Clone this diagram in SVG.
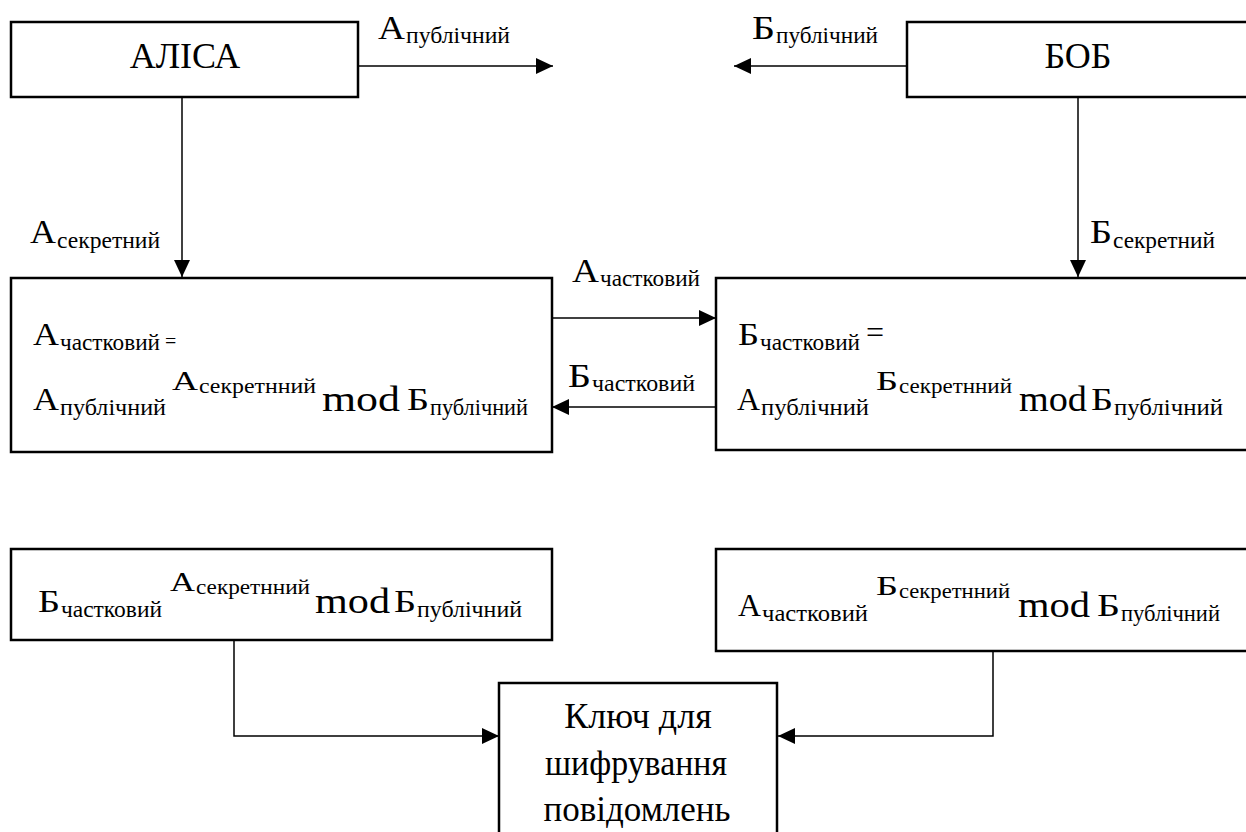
<svg xmlns="http://www.w3.org/2000/svg" width="1246" height="832" viewBox="0 0 1246 832">
  <style>
    .box { fill: #ffffff; stroke: #000000; stroke-width: 2.5; }
    .wire { fill: none; stroke: #000000; stroke-width: 1.5; }
    text { font-family: "Liberation Serif", "Times New Roman", "DejaVu Serif", serif; fill: #000000; }
    .big { font-size: 36px; }
    .lab { font-size: 34px; }
    .labsub { font-size: 23px; }
    .main { font-size: 32px; }
    .sub { font-size: 23px; }
    .sup { font-size: 28px; }
    .supsub { font-size: 21px; }
    .mod { font-size: 36px; }
    .eqs { font-size: 20px; }
  </style>
  <defs>
    <marker id="head" markerUnits="userSpaceOnUse" markerWidth="18" markerHeight="16" refX="17" refY="8" orient="auto">
      <path d="M0,0 L17,8 L0,16 Z" fill="#000000"/>
    </marker>
  </defs>

  <!-- connectors and their labels -->
  <g id="connectors">
    <line class="wire" x1="358" y1="66" x2="553" y2="66" marker-end="url(#head)"/>
    <line class="wire" x1="907" y1="66" x2="734" y2="66" marker-end="url(#head)"/>
    <line class="wire" x1="182" y1="97" x2="182" y2="277" marker-end="url(#head)"/>
    <line class="wire" x1="1078" y1="97" x2="1078" y2="277" marker-end="url(#head)"/>
    <line class="wire" x1="552" y1="318" x2="716" y2="318" marker-end="url(#head)"/>
    <line class="wire" x1="716" y1="407" x2="552" y2="407" marker-end="url(#head)"/>
    <polyline class="wire" points="234,640 234,736 499,736" marker-end="url(#head)"/>
    <polyline class="wire" points="993,651 993,736 778,736" marker-end="url(#head)"/>

    <text><tspan class="lab" x="378" y="39" textLength="27" lengthAdjust="spacingAndGlyphs">А</tspan><tspan class="labsub" x="406" y="43" textLength="104" lengthAdjust="spacingAndGlyphs">публічний</tspan></text>
    <text><tspan class="lab" x="752" y="39" textLength="23" lengthAdjust="spacingAndGlyphs">Б</tspan><tspan class="labsub" x="776" y="43" textLength="102" lengthAdjust="spacingAndGlyphs">публічний</tspan></text>
    <text><tspan class="lab" x="30" y="243" textLength="26" lengthAdjust="spacingAndGlyphs">А</tspan><tspan class="labsub" x="57" y="248" textLength="103" lengthAdjust="spacingAndGlyphs">секретний</tspan></text>
    <text><tspan class="lab" x="1090" y="243" textLength="22" lengthAdjust="spacingAndGlyphs">Б</tspan><tspan class="labsub" x="1113" y="248" textLength="102" lengthAdjust="spacingAndGlyphs">секретний</tspan></text>
    <text><tspan class="lab" x="572" y="282" textLength="27" lengthAdjust="spacingAndGlyphs">А</tspan><tspan class="labsub" x="600" y="286" textLength="100" lengthAdjust="spacingAndGlyphs">частковий</tspan></text>
    <text><tspan class="lab" x="568" y="387" textLength="23" lengthAdjust="spacingAndGlyphs">Б</tspan><tspan class="labsub" x="592" y="391" textLength="103" lengthAdjust="spacingAndGlyphs">частковий</tspan></text>
  </g>

  <g id="alice">
    <rect class="box" x="11" y="22" width="347" height="75"/>
    <text class="big" x="185" y="68" text-anchor="middle">АЛІСА</text>
  </g>

  <g id="bob">
    <rect class="box" x="907" y="22" width="345" height="75"/>
    <text class="big" x="1078" y="68" text-anchor="middle">БОБ</text>
  </g>

  <g id="alice-partial">
    <rect class="box" x="11" y="278" width="541" height="174"/>
    <text><tspan class="main" x="33" y="345" textLength="26" lengthAdjust="spacingAndGlyphs">А</tspan><tspan class="sub" x="60" y="350" textLength="100" lengthAdjust="spacingAndGlyphs">частковий</tspan><tspan class="eqs" x="165" y="348">=</tspan></text>
    <text><tspan class="main" x="33" y="410" textLength="26" lengthAdjust="spacingAndGlyphs">А</tspan><tspan class="sub" x="60" y="415" textLength="106" lengthAdjust="spacingAndGlyphs">публічний</tspan><tspan class="sup" x="172" y="390" textLength="26" lengthAdjust="spacingAndGlyphs">А</tspan><tspan class="supsub" x="199" y="393" textLength="117" lengthAdjust="spacingAndGlyphs">секретнний</tspan><tspan class="mod" x="322" y="411" textLength="78" lengthAdjust="spacingAndGlyphs">mod</tspan><tspan class="main" x="407" y="410" textLength="22" lengthAdjust="spacingAndGlyphs">Б</tspan><tspan class="sub" x="430" y="415" textLength="98" lengthAdjust="spacingAndGlyphs">публічний</tspan></text>
  </g>

  <g id="bob-partial">
    <rect class="box" x="716" y="278" width="536" height="172"/>
    <text><tspan class="main" x="738" y="345" textLength="21" lengthAdjust="spacingAndGlyphs">Б</tspan><tspan class="sub" x="760" y="350" textLength="100" lengthAdjust="spacingAndGlyphs">частковий</tspan><tspan class="main" x="866" y="343">=</tspan></text>
    <text><tspan class="main" x="737" y="410" textLength="23" lengthAdjust="spacingAndGlyphs">А</tspan><tspan class="sub" x="761" y="415" textLength="108" lengthAdjust="spacingAndGlyphs">публічний</tspan><tspan class="sup" x="876" y="390" textLength="22" lengthAdjust="spacingAndGlyphs">Б</tspan><tspan class="supsub" x="899" y="393" textLength="113" lengthAdjust="spacingAndGlyphs">секретнний</tspan><tspan class="mod" x="1019" y="411" textLength="68" lengthAdjust="spacingAndGlyphs">mod</tspan><tspan class="main" x="1091" y="410" textLength="22" lengthAdjust="spacingAndGlyphs">Б</tspan><tspan class="sub" x="1114" y="415" textLength="109" lengthAdjust="spacingAndGlyphs">публічний</tspan></text>
  </g>

  <g id="alice-key">
    <rect class="box" x="11" y="549" width="541" height="91"/>
    <text><tspan class="main" x="38" y="612" textLength="22" lengthAdjust="spacingAndGlyphs">Б</tspan><tspan class="sub" x="61" y="617" textLength="101" lengthAdjust="spacingAndGlyphs">частковий</tspan><tspan class="sup" x="170" y="591" textLength="25" lengthAdjust="spacingAndGlyphs">А</tspan><tspan class="supsub" x="196" y="594" textLength="114" lengthAdjust="spacingAndGlyphs">секретнний</tspan><tspan class="mod" x="315" y="613" textLength="75" lengthAdjust="spacingAndGlyphs">mod</tspan><tspan class="main" x="394" y="612" textLength="22" lengthAdjust="spacingAndGlyphs">Б</tspan><tspan class="sub" x="417" y="617" textLength="105" lengthAdjust="spacingAndGlyphs">публічний</tspan></text>
  </g>

  <g id="bob-key">
    <rect class="box" x="716" y="549" width="536" height="102"/>
    <text><tspan class="main" x="738" y="616" textLength="23" lengthAdjust="spacingAndGlyphs">А</tspan><tspan class="sub" x="762" y="621" textLength="106" lengthAdjust="spacingAndGlyphs">частковий</tspan><tspan class="sup" x="876" y="595" textLength="22" lengthAdjust="spacingAndGlyphs">Б</tspan><tspan class="supsub" x="899" y="598" textLength="111" lengthAdjust="spacingAndGlyphs">секретнний</tspan><tspan class="mod" x="1018" y="617" textLength="72" lengthAdjust="spacingAndGlyphs">mod</tspan><tspan class="main" x="1097" y="616" textLength="23" lengthAdjust="spacingAndGlyphs">Б</tspan><tspan class="sub" x="1121" y="621" textLength="99" lengthAdjust="spacingAndGlyphs">публічний</tspan></text>
  </g>

  <g id="shared-key">
    <rect class="box" x="499" y="683" width="278" height="160"/>
    <text class="big" x="638" y="728" text-anchor="middle">Ключ для</text>
    <text class="big" x="636" y="775" text-anchor="middle" textLength="182" lengthAdjust="spacingAndGlyphs">шифрування</text>
    <text class="big" x="637" y="821" text-anchor="middle" textLength="187" lengthAdjust="spacingAndGlyphs">повідомлень</text>
  </g>
</svg>
